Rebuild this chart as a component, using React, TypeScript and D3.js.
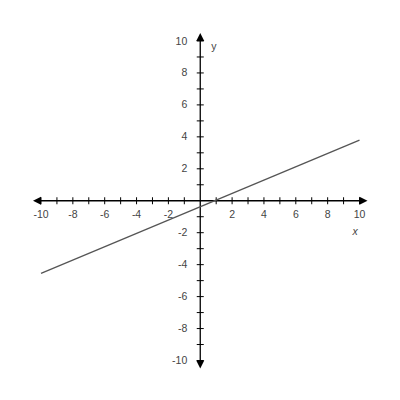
import * as d3 from "d3";

const width = 400;
const height = 400;

const xDomain = [-10, 10];
const yDomain = [-10, 10];
const tickValues = d3.range(-10, 11, 1);
const labelValues = [-10, -8, -6, -4, -2, 2, 4, 6, 8, 10];
const lineX = [-10, 10];
const lineY = [-4.55, 3.8];

const x = d3.scaleLinear().domain(xDomain).range([41, 359.5]);
const y = d3.scaleLinear().domain(yDomain).range([360.5, 41]);

const axisColor = "#000";
const textColor = "#444";
const font = "'Liberation Sans', Arial, sans-serif";

export default function App() {
  const x0 = x(0);
  const y0 = y(0);
  const linePath = d3
    .line<number>()
    .x((_, i) => x(lineX[i]))
    .y((d) => y(d))(lineY);

  return (
    <svg width={width} height={height} style={{ position: "absolute", left: 0, top: 0, background: "#fff" }}>
      {/* axes */}
      <line x1={x(-10) - 2} x2={x(10) + 2} y1={y0} y2={y0} stroke={axisColor} strokeWidth={1.3} />
      <line x1={x0} x2={x0} y1={y(10) - 2} y2={y(-10) + 2} stroke={axisColor} strokeWidth={1.3} />

      {/* arrow heads */}
      <path d={`M${x(-10) - 8},${y0} L${x(-10)},${y0 - 4} L${x(-10)},${y0 + 4} Z`} fill={axisColor} />
      <path d={`M${x(10) + 8},${y0} L${x(10)},${y0 - 4} L${x(10)},${y0 + 4} Z`} fill={axisColor} />
      <path d={`M${x0},${y(10) - 8} L${x0 - 4},${y(10)} L${x0 + 4},${y(10)} Z`} fill={axisColor} />
      <path d={`M${x0},${y(-10) + 8} L${x0 - 4},${y(-10)} L${x0 + 4},${y(-10)} Z`} fill={axisColor} />

      {/* ticks */}
      {tickValues
        .filter((t) => t !== 0)
        .map((t) => (
          <g key={`t${t}`}>
            <line x1={x(t)} x2={x(t)} y1={y0 - 3.5} y2={y0 + 3.5} stroke={axisColor} strokeWidth={1} />
            <line x1={x0 - 3.5} x2={x0 + 3.5} y1={y(t)} y2={y(t)} stroke={axisColor} strokeWidth={1} />
          </g>
        ))}

      {/* tick labels */}
      {labelValues.map((t) => (
        <g key={`l${t}`} fontFamily={font} fontSize={10.5} fill={textColor}>
          <text x={x(t)} y={y0 + 17} textAnchor="middle">
            {t}
          </text>
          <text x={x0 - 13} y={y(t) + 3.5} textAnchor="end">
            {t}
          </text>
        </g>
      ))}

      {/* axis titles */}
      <text x={x0 + 11} y={y(10) + 9} fontFamily={font} fontSize={10.5} fill={textColor}>
        y
      </text>
      <text x={x(10) - 7} y={y0 + 34} fontFamily={font} fontSize={10.5} fontStyle="italic" fill={textColor}>
        x
      </text>

      {/* line */}
      <path d={linePath ?? ""} fill="none" stroke="#555" strokeWidth={1.3} />
    </svg>
  );
}
